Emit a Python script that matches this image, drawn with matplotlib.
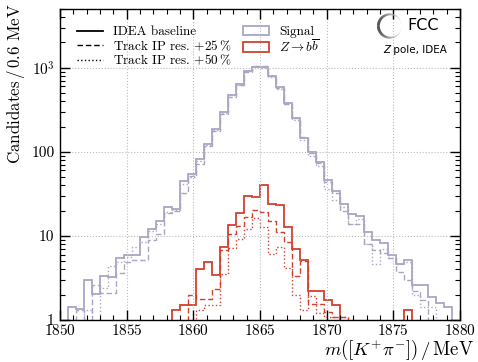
import numpy as np
import matplotlib
matplotlib.use("Agg")
import matplotlib.pyplot as plt
from matplotlib.lines import Line2D
from matplotlib.patches import Patch
from matplotlib.collections import LineCollection
from matplotlib.ticker import FixedLocator, FixedFormatter, MultipleLocator, LogLocator

plt.rcParams["font.family"] = "serif"
plt.rcParams["font.serif"] = ["cmr10"]
plt.rcParams["mathtext.fontset"] = "cm"
plt.rcParams["axes.formatter.use_mathtext"] = True
plt.rcParams["axes.unicode_minus"] = False

# binning: 1850-1880 MeV, 0.6 MeV bins
edges = np.linspace(1850, 1880, 51)

# signal, three track IP resolution scenarios
sig_base = [0, 1.41, 1.36, 3.0, 2.03, 3.36, 3.24, 5.5, 6.0, 5.9,
            9.7, 12.2, 14.9, 22, 21, 45, 54, 82, 124, 187,
            300, 480, 640, 921, 1010, 1020, 789, 585, 381, 253,
            147, 99, 76, 45.7, 33.8, 24.2, 18, 17.4, 11.0, 8.9,
            8.3, 6.0, 4.66, 5.2, 2.6, 2.6, 1.89, 1.58, 1.44, 0]
sig_25 = [0, 0, 1.3, 0, 2.6, 2.07, 2.07, 3.6, 4.9, 5.2,
          5.2, 8.9, 10.6, 18.5, 20, 32, 52, 72, 117, 175,
          283, 450, 620, 900, 1060, 1050, 800, 570, 375, 250,
          150, 97, 74, 44, 32, 20, 14, 14, 8.0, 6.8,
          6.2, 5.4, 3.7, 3.0, 2.2, 1.73, 0, 0, 0, 0]
sig_50 = [0, 0, 0, 1.3, 0, 2.4, 4.4, 4.9, 5.6, 7.3,
          8.5, 11.4, 14.0, 19.3, 20.5, 41.7, 50, 78, 120, 180,
          290, 470, 630, 910, 1040, 1000, 770, 560, 370, 240,
          140, 90, 67, 36, 27, 22, 14, 16, 8.0, 4.6,
          7.0, 5.5, 4.6, 4.9, 2.0, 1.44, 1.44, 0, 0, 0]

# Z -> bb background
bkg_base = [0] * 14 + [1.31, 1.52, 1.52, 4.0, 4.9, 3.4, 7.4, 13.4, 18.7, 29.7,
                       28.9, 40.5, 24.1, 23.3, 12.8, 6.9, 5.2, 2.19, 2.19, 1.73,
                       1.52] + [0] * 8 + [1.31] + [0] * 6
bkg_25 = [0] * 16 + [1.96, 1.76, 1.76, 2.35, 6.8, 10.6, 13.0, 17.0, 20.2, 19.5,
                     15.0, 11.0, 8.5, 3.3, 5.0, 1.55, 1.55, 1.26, 1.1, 1.1] + [0] * 14
bkg_50 = [0] * 17 + [1.31, 1.52, 1.52, 3.5, 7.2, 9.1, 12.0, 16.5, 12.8,
                     6.1, 7.4, 4.1, 1.98, 1.31, 1.92, 1.2, 1.1, 1.1, 1.1] + [0] * 14

c_sig = "#aaa5c3"
c_bkg = "#d2412f"

fig = plt.figure(figsize=(4.78, 3.62), dpi=100)
ax = fig.add_axes([60 / 478, 1 - 320 / 362, 400 / 478, 311 / 362])


def draw(vals, color, ls, lw):
    v = np.array(vals, dtype=float)
    v[v <= 0] = 1e-3
    ax.stairs(v, edges, baseline=1e-3, color=color, linestyle=ls, linewidth=lw)


draw(sig_50, c_sig, ":", 1.0)
draw(sig_25, c_sig, (0, (4, 2)), 1.0)
draw(sig_base, c_sig, "-", 1.3)
draw(bkg_50, c_bkg, ":", 1.0)
draw(bkg_25, c_bkg, (0, (4, 2)), 1.0)
draw(bkg_base, c_bkg, "-", 1.3)

ax.set_yscale("log")
ax.set_xlim(1850, 1880)
ax.set_ylim(1, 5000)
ax.xaxis.set_major_locator(MultipleLocator(5))
ax.xaxis.set_minor_locator(MultipleLocator(1))
ax.yaxis.set_major_locator(FixedLocator([1, 10, 100, 1000]))
ax.yaxis.set_major_formatter(FixedFormatter(["1", "10", "100", r"$10^3$"]))
ax.yaxis.set_minor_locator(LogLocator(base=10, subs=np.arange(2, 10)))
ax.yaxis.set_minor_formatter(FixedFormatter([]))
ax.tick_params(which="both", direction="in", top=True, right=True, labelsize=11)
ax.tick_params(which="major", length=7, width=1)
ax.tick_params(which="minor", length=3.5, width=0.8)
ax.tick_params(axis="x", which="major", pad=2)
ax.tick_params(axis="y", which="major", pad=4)
ax.grid(True, which="major", linestyle=":", color="#bbbbbb", linewidth=0.8)
for s in ax.spines.values():
    s.set_linewidth(1.0)

ax.set_xlabel(r"$m([K^{+}\pi^{-}])\,/\,$MeV", loc="right", fontsize=13.5)
ax.xaxis.set_label_coords(1.035, -0.058)
ax.set_ylabel(r"Candidates$\,/\,$0.6 MeV", loc="top", fontsize=12.2)
ax.yaxis.set_label_coords(-0.082, 1.02)

h1 = [Line2D([], [], color="k", ls="-", lw=1.3),
      Line2D([], [], color="k", ls=(0, (4, 2)), lw=1.0),
      Line2D([], [], color="k", ls=":", lw=1.0)]
l1 = ax.legend(h1, ["IDEA baseline", r"Track IP res. $+25\,\%$", r"Track IP res. $+50\,\%$"],
               loc="upper left", bbox_to_anchor=(0.0425, 0.945), frameon=False, borderpad=0,
               borderaxespad=0, fontsize=9.5, handlelength=1.95, labelspacing=0,
               handletextpad=0.76)
ax.add_artist(l1)
h2 = [Patch(facecolor="none", edgecolor=c_sig, linewidth=1.3),
      Patch(facecolor="none", edgecolor=c_bkg, linewidth=1.3)]
ax.legend(h2, ["Signal", r"$Z\to b\overline{b}$"], loc="upper left",
          bbox_to_anchor=(0.4575, 0.945), frameon=False, borderpad=0, borderaxespad=0,
          fontsize=9.5, handlelength=1.95, labelspacing=0, handletextpad=0.76)

# FCC logo
axl = fig.add_axes([376 / 478, 1 - 40 / 362, 28 / 478, 28 / 362])
axl.set_xlim(-1.2, 1.2)
axl.set_ylim(-1.2, 1.2)
axl.set_aspect("equal")
axl.axis("off")
t = np.linspace(0, 2 * np.pi, 200)
pts = np.column_stack([np.cos(t), np.sin(t)]).reshape(-1, 1, 2)
segs = np.concatenate([pts[:-1], pts[1:]], axis=1)
shade = 0.5 * (1 + np.cos(t[:-1] - np.pi))  # 1 on the left, 0 on the right
cols = [(1 - s * 0.95, 1 - s * 0.95, 1 - s * 0.95) for s in shade]
axl.add_collection(LineCollection(segs, colors=cols, linewidths=0.6 + 1.4 * shade))

fig.text(407 / 478, 1 - 26 / 362, "FCC", family="DejaVu Sans", fontsize=11.5,
         va="center", ha="left")
tz = fig.text(383 / 478, 1 - 50 / 362, "Z", family="DejaVu Sans", style="italic",
              fontsize=7.5, va="center", ha="left")
ax.annotate(" pole, IDEA", xy=(1, 0.5), xycoords=tz, va="center", ha="left",
            family="DejaVu Sans", fontsize=7.5)

fig.savefig("out.png", dpi=100)
